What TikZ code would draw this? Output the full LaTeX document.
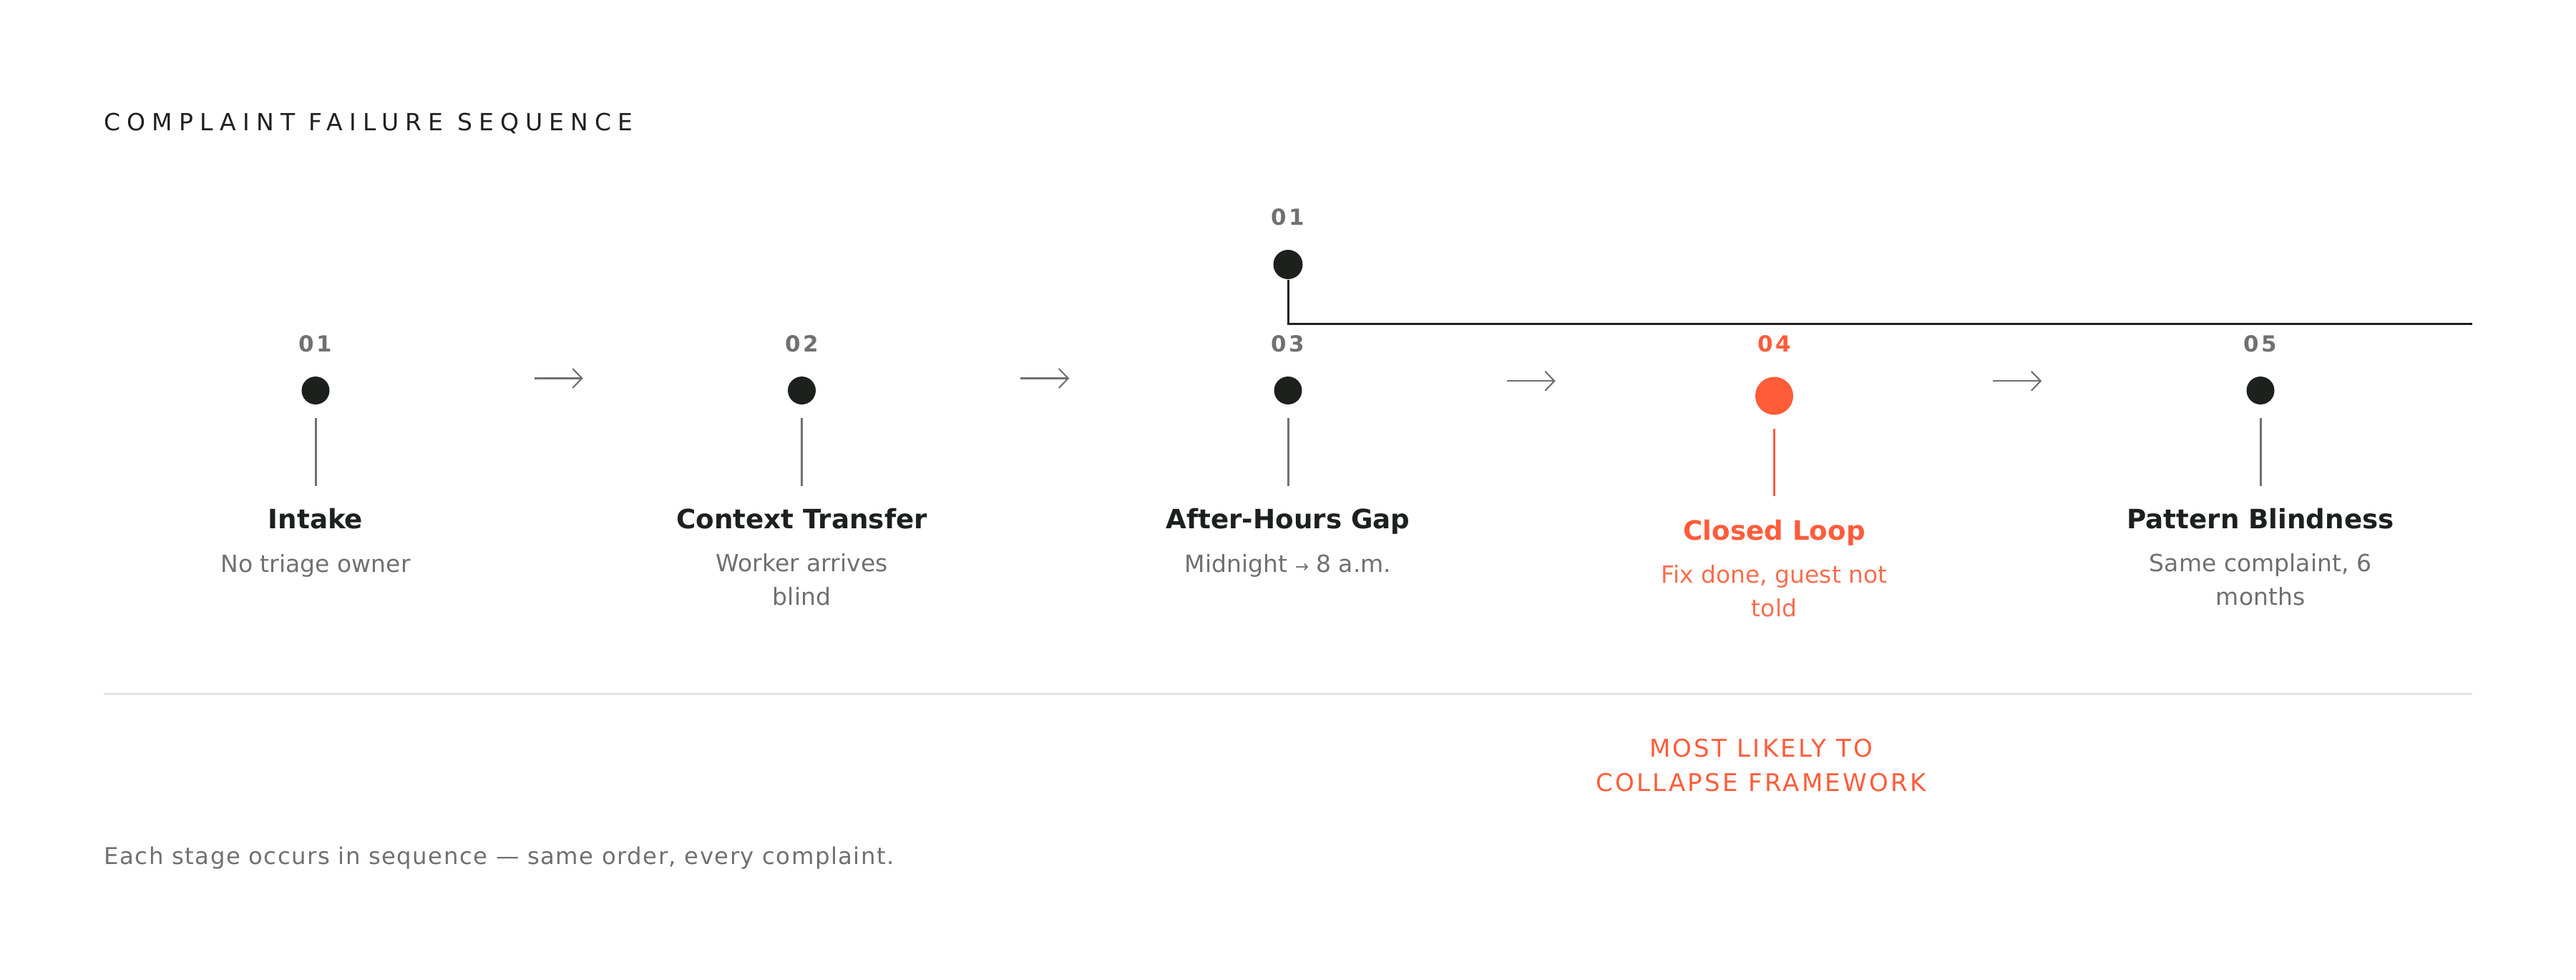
\documentclass[tikz,border=0pt]{standalone}
\usepackage{fontspec}
\setmainfont{DejaVu Sans}
\newfontfamily\capsfont[LetterSpace=27.5]{DejaVu Sans}
\newfontfamily\tagfont[LetterSpace=9.5]{DejaVu Sans}
\newfontfamily\numfont[LetterSpace=12]{DejaVu Sans}
\newfontfamily\footfont[LetterSpace=4.5]{DejaVu Sans}
\usepackage{xcolor}
\usetikzlibrary{arrows.meta, calc, positioning}

\definecolor{ink}{HTML}{1D211E}
\definecolor{mute}{HTML}{707070}
\definecolor{rule}{HTML}{E4E4E4}
\definecolor{alert}{HTML}{FF5C39}
\definecolor{alertsoft}{HTML}{F86E4F}

\tikzset{
  dot/.style={circle, fill=ink, inner sep=0, minimum size=0.39cm},
  hotdot/.style={circle, fill=alert, inner sep=0, minimum size=0.53cm},
  stem/.style={draw=mute, line width=0.85pt},
  hotstem/.style={draw=alert, line width=0.85pt},
  flow/.style={draw=mute, line width=0.6pt, -{Straight Barb[length=0.13cm, width=0.27cm]}},
  num/.style={font=\numfont\bfseries\fontsize{8.8}{11}\selectfont, text=mute, anchor=base, inner sep=0},
  stagetitle/.style={font=\bfseries\fontsize{10.6}{13}\selectfont, text=ink, anchor=base, inner sep=0},
  stagenote/.style={font=\fontsize{9.4}{13.1}\selectfont, text=mute, align=center, anchor=base, inner sep=0}
}

\begin{document}
\begin{tikzpicture}[x=1cm, y=-1cm]
    \useasboundingbox (0,0) rectangle (36,13.68);

    \def\xa{4.41}
    \def\xstep{6.795}

    \node[font=\capsfont\fontsize{9.4}{11}\selectfont, text=ink, anchor=base west, inner sep=0]
      (head) at (1.45,1.82) {COMPLAINT FAILURE SEQUENCE};

    % Stages (a two-line note sits on the baseline of its last line)
    \node[num] (n1) at (\xa,4.91) {01};
    \node[dot] (d1) at (\xa,5.455) {};
    \coordinate (s1) at (\xa,6.79);
    \node[stagetitle] (t1) at (\xa,7.38) {Intake};
    \node[stagenote] (c1) at (\xa,7.99) {No triage owner};

    \node[num] (n2) at (\xa+\xstep,4.91) {02};
    \node[dot] (d2) at (\xa+\xstep,5.455) {};
    \coordinate (s2) at (\xa+\xstep,6.79);
    \node[stagetitle] (t2) at (\xa+\xstep,7.38) {Context Transfer};
    \node[stagenote] (c2) at (\xa+\xstep,8.45) {Worker arrives\\blind};

    \node[num] (n3) at (\xa+2*\xstep,4.91) {03};
    \node[dot] (d3) at (\xa+2*\xstep,5.455) {};
    \coordinate (s3) at (\xa+2*\xstep,6.79);
    \node[stagetitle] (t3) at (\xa+2*\xstep,7.38) {After-Hours Gap};
    \node[stagenote] (c3) at (\xa+2*\xstep,7.99) {Midnight {\fontsize{6.5}{9}\selectfont →} 8 a.m.};

    \node[num, text=alert] (n4) at (\xa+3*\xstep,4.91) {04};
    \node[hotdot] (d4) at (\xa+3*\xstep,5.53) {};
    \coordinate (s4) at (\xa+3*\xstep,6.93);
    \node[stagetitle, text=alert] (t4) at (\xa+3*\xstep,7.54) {Closed Loop};
    \node[stagenote, text=alertsoft] (c4) at (\xa+3*\xstep,8.61) {Fix done, guest not\\told};

    \node[num] (n5) at (\xa+4*\xstep,4.91) {05};
    \node[dot] (d5) at (\xa+4*\xstep,5.455) {};
    \coordinate (s5) at (\xa+4*\xstep,6.79);
    \node[stagetitle] (t5) at (\xa+4*\xstep,7.38) {Pattern Blindness};
    \node[stagenote] (c5) at (\xa+4*\xstep,8.45) {Same complaint, 6\\months};

    \draw[stem] ([yshift=-0.18cm]d1.south) -- (s1);
    \draw[stem] ([yshift=-0.18cm]d2.south) -- (s2);
    \draw[stem] ([yshift=-0.18cm]d3.south) -- (s3);
    \draw[hotstem] ([yshift=-0.19cm]d4.south) -- (s4);
    \draw[stem] ([yshift=-0.18cm]d5.south) -- (s5);

    % Arrows between stages
    \foreach \a/\b in {d1/d2, d2/d3, d3/d4, d4/d5}
    \draw[flow] ($(\a)!0.5!(\b)+(-0.34,-0.17)$) -- ++(0.68,0);

    % Loop back
    \node[num] (u0) at (\xa+2*\xstep,3.14) {01};
    \node[dot, minimum size=0.41cm] (u1) at (\xa+2*\xstep,3.695) {};
    \coordinate (knee) at (\xa+2*\xstep,4.52);
    \coordinate (tail) at (34.55,4.52);
    \draw[ink, line width=0.85pt] (u1.south) -- (knee) -- (tail);

    % Divider
    \coordinate (divL) at (1.45,9.69);
    \coordinate (divR) at (34.55,9.69);
    \draw[rule, line width=0.85pt] (divL) -- (divR);

    \node[font=\tagfont\fontsize{9.7}{13.66}\selectfont, text=alert, align=center, anchor=base, inner sep=0]
      (risk) at (24.61,11.05) {MOST LIKELY TO\\COLLAPSE FRAMEWORK};

    \node[font=\footfont\fontsize{9.2}{11}\selectfont, text=mute, anchor=base west, inner sep=0]
      (foot) at (1.45,12.07) {Each stage occurs in sequence — same order, every complaint.};
  \end{tikzpicture}
\end{document}
